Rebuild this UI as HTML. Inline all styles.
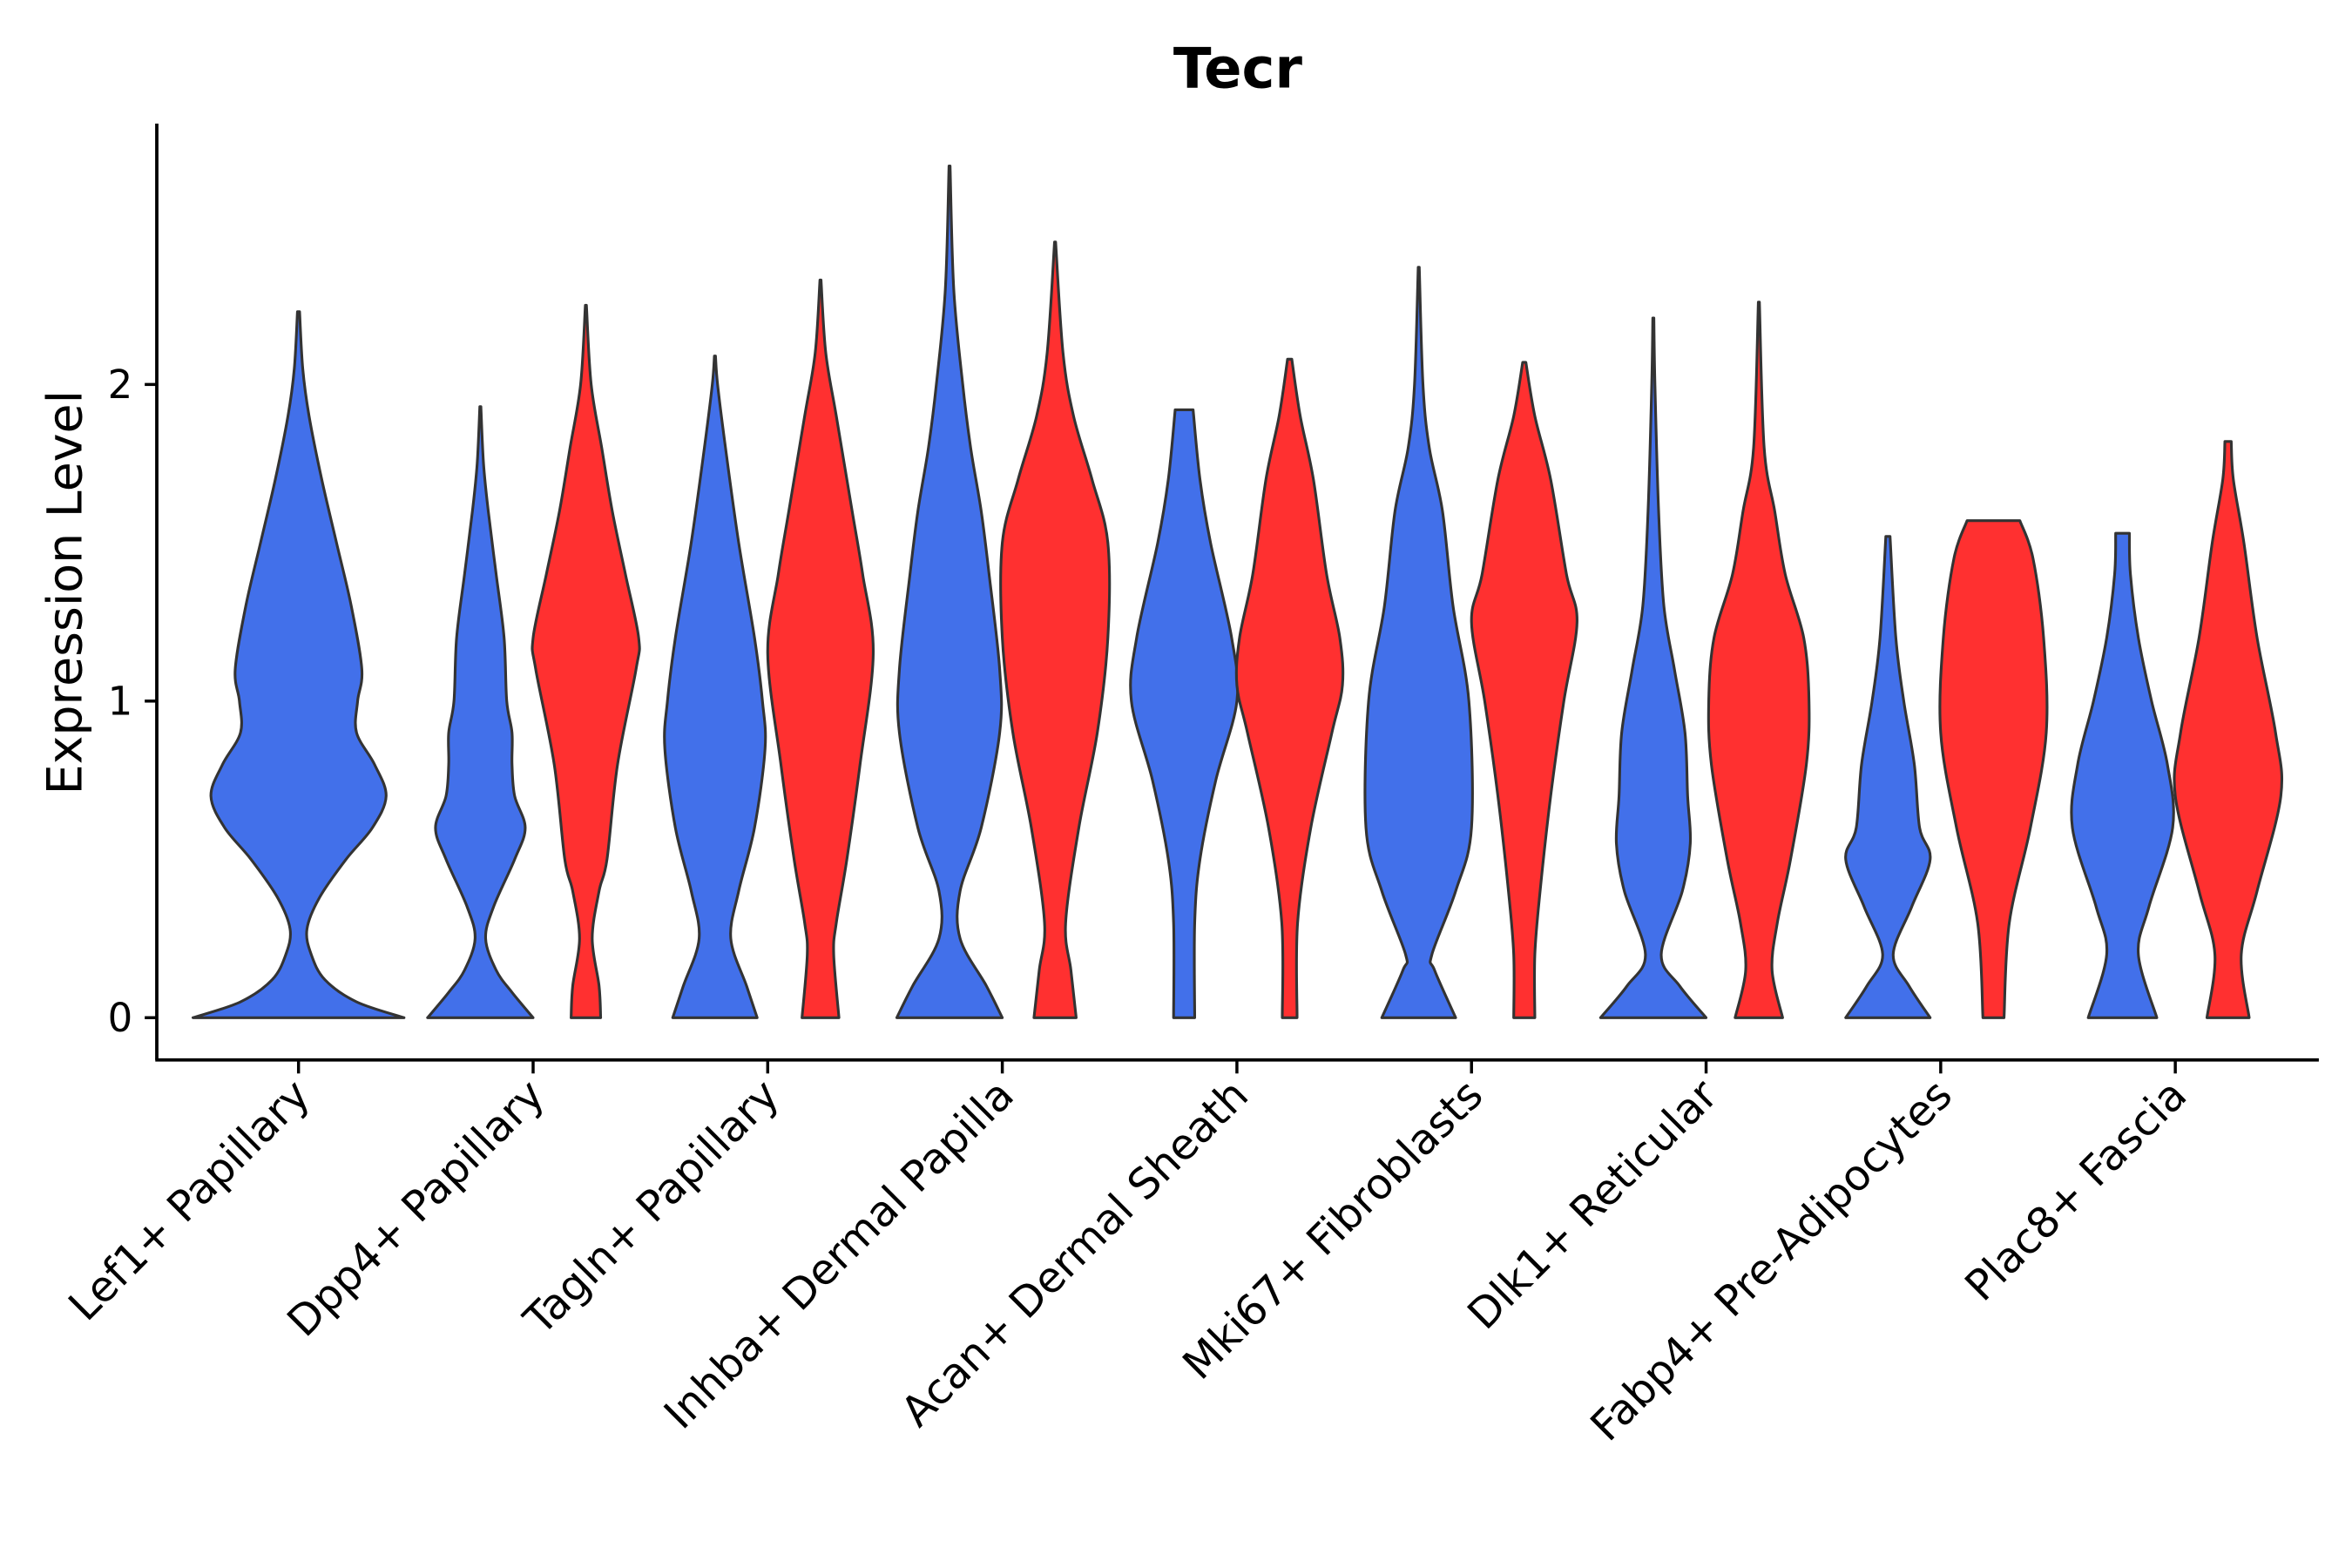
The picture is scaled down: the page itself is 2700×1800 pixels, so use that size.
<!DOCTYPE html>
<html><head><meta charset="utf-8"><style>
html,body{margin:0;padding:0;background:#fff;}
svg{display:block;font-family:"DejaVu Sans","Liberation Sans",sans-serif;}
</style></head><body>
<svg id="chart" width="2700" height="1800" viewBox="0 0 1560 1040" preserveAspectRatio="none" xmlns="http://www.w3.org/2000/svg">
<rect width="1560" height="1040" fill="#fff"/>
<text x="821" y="58" text-anchor="middle" font-size="37" font-weight="bold">Tecr</text>
<text transform="translate(54,393) rotate(-90)" text-anchor="middle" font-size="32">Expression Level</text>
<g id="violins"></g>
<g id="axes"></g>
</svg>
<script>
const categories = ["Lef1+ Papillary","Dpp4+ Papillary","Tagln+ Papillary","Inhba+ Dermal Papilla","Acan+ Dermal Sheath","Mki67+ Fibroblasts","Dlk1+ Reticular","Fabp4+ Pre-Adipocytes","Plac8+ Fascia"];
const yTicks = [0,1,2];
const violinCategory = [0,1,1,2,2,3,3,4,4,5,5,6,6,7,7,8,8];
const violinGroup    = [0,0,1,0,1,0,1,0,1,0,1,0,1,0,1,0,1];
const violinSplit    = [false,true,true,true,true,true,true,true,true,true,true,true,true,true,true,true,true];
const lef1Blue=[[0,1],[0.05,0.55],[0.12,0.25],[0.2,0.12],[0.28,0.08],[0.38,0.2],[0.5,0.45],[0.6,0.7],[0.7,0.83],[0.8,0.72],[0.9,0.55],[1.0,0.56],[1.1,0.6],[1.3,0.5],[1.5,0.36],[1.7,0.22],[1.9,0.1],[2.05,0.04],[2.23,0.01]];
const dpp4Blue=[[0,1],[0.08,0.6],[0.15,0.3],[0.25,0.1],[0.35,0.25],[0.5,0.65],[0.6,0.85],[0.7,0.65],[0.8,0.6],[0.9,0.6],[1.0,0.5],[1.2,0.45],[1.4,0.3],[1.6,0.15],[1.75,0.06],[1.93,0.01]];
const dpp4Red=[[0,0.28],[0.1,0.25],[0.25,0.12],[0.4,0.25],[0.5,0.4],[0.8,0.6],[1.1,0.95],[1.2,1.0],[1.4,0.75],[1.6,0.5],[1.8,0.3],[2.0,0.1],[2.25,0.01]];
const taglnBlue=[[0,0.8],[0.1,0.6],[0.25,0.3],[0.4,0.45],[0.6,0.75],[0.85,0.95],[1.0,0.9],[1.2,0.75],[1.5,0.45],[1.8,0.2],[2.0,0.05],[2.09,0.01]];
const taglnRed=[[0,0.35],[0.2,0.25],[0.3,0.3],[0.5,0.5],[0.8,0.75],[1.15,1.0],[1.4,0.8],[1.6,0.6],[1.9,0.3],[2.1,0.1],[2.33,0.01]];
const inhbaBlue=[[0,1],[0.1,0.7],[0.25,0.2],[0.4,0.2],[0.6,0.6],[0.9,0.95],[1.1,0.95],[1.4,0.75],[1.6,0.6],[1.8,0.4],[2.0,0.25],[2.3,0.08],[2.69,0.01]];
const inhbaRed=[[0,0.4],[0.15,0.3],[0.3,0.2],[0.6,0.45],[0.9,0.8],[1.2,1.0],[1.5,1.0],[1.7,0.7],[1.9,0.35],[2.1,0.15],[2.45,0.01]];
const acanBlue=[[0,0.2],[0.3,0.2],[0.5,0.3],[0.75,0.6],[1.0,1.0],[1.2,0.9],[1.5,0.5],[1.7,0.3],[1.92,0.17]];
const acanRed=[[0,0.14],[0.3,0.15],[0.6,0.4],[0.9,0.8],[1.05,1.0],[1.2,0.95],[1.4,0.7],[1.7,0.45],[1.9,0.2],[2.08,0.04]];
const mki67Blue=[[0,0.7],[0.15,0.3],[0.2,0.25],[0.4,0.7],[0.6,1.0],[1.0,0.95],[1.3,0.65],[1.6,0.45],[1.8,0.2],[2.0,0.08],[2.37,0.01]];
const mki67Red=[[0,0.2],[0.2,0.2],[0.4,0.3],[0.7,0.5],[1.0,0.75],[1.25,1.0],[1.4,0.8],[1.7,0.5],[1.9,0.2],[2.07,0.03]];
const dlk1Blue=[[0,1],[0.1,0.5],[0.2,0.15],[0.4,0.55],[0.55,0.7],[0.7,0.65],[0.9,0.6],[1.1,0.4],[1.3,0.2],[1.6,0.1],[2.0,0.03],[2.21,0.01]];
const dlk1Red=[[0,0.45],[0.15,0.25],[0.3,0.35],[0.5,0.6],[0.8,0.9],[1.0,0.95],[1.2,0.85],[1.4,0.5],[1.6,0.3],[1.8,0.1],[2.26,0.01]];
const fabp4Blue=[[0,0.8],[0.1,0.4],[0.2,0.1],[0.35,0.45],[0.5,0.8],[0.6,0.6],[0.8,0.5],[1.0,0.3],[1.2,0.15],[1.52,0.04]];
const fabp4Red=[[0,0.2],[0.3,0.3],[0.6,0.7],[0.9,1.0],[1.2,0.95],[1.45,0.75],[1.57,0.5]];
const plac8Blue=[[0,0.65],[0.2,0.3],[0.35,0.5],[0.6,0.95],[0.8,0.85],[1.0,0.55],[1.2,0.3],[1.4,0.15],[1.53,0.13]];
const plac8Red=[[0,0.4],[0.2,0.25],[0.4,0.55],[0.7,1.0],[0.9,0.9],[1.2,0.55],[1.5,0.3],[1.7,0.1],[1.82,0.06]];
const profiles=[lef1Blue,dpp4Blue,dpp4Red,taglnBlue,taglnRed,inhbaBlue,inhbaRed,acanBlue,acanRed,mki67Blue,mki67Red,dlk1Blue,dlk1Red,fabp4Blue,fabp4Red,plac8Blue,plac8Red];

const NS="http://www.w3.org/2000/svg";
const plot={left:104,right:1538,top:82,bottom:703};
function yScale(v){return 675-v*210;}
function xScale(i){return 198+i*155.6;}
const colors=["#4270EA","#FF3030"];
function mk(tag,attrs,parent){const e=document.createElementNS(NS,tag);for(const k in attrs)e.setAttribute(k,attrs[k]);parent.appendChild(e);return e;}
function smooth(pts){
  let d="M"+pts[0][0]+","+pts[0][1];
  for(let i=0;i<pts.length-1;i++){
    const p0=pts[i-1]||pts[i],p1=pts[i],p2=pts[i+1],p3=pts[i+2]||p2;
    const c1=[p1[0]+(p2[0]-p0[0])/6,p1[1]+(p2[1]-p0[1])/6];
    const c2=[p2[0]-(p3[0]-p1[0])/6,p2[1]-(p3[1]-p1[1])/6];
    d+=" C"+c1[0]+","+c1[1]+" "+c2[0]+","+c2[1]+" "+p2[0]+","+p2[1];
  }
  return d;
}
const vg=document.getElementById("violins");
profiles.forEach((prof,k)=>{
  const ci=violinCategory[k],g=violinGroup[k];
  const split=violinSplit[k];
  const cx=split?xScale(ci)+(g===0?-35:35):xScale(ci);
  const hw=split?35:70;
  const right=prof.map(p=>[cx+p[1]*hw,yScale(p[0])]);
  const left=prof.slice().reverse().map(p=>[cx-p[1]*hw,yScale(p[0])]);
  let d=smooth(right);
  d+=" L"+left[0][0]+","+left[0][1];
  d+=smooth(left).replace(/^M[^ ]+/,"");
  d+=" Z";
  const path=mk("path",{d:d,fill:colors[g],stroke:"#333","stroke-width":1.8,"stroke-linejoin":"round"},vg);
  
  
});
const ag=document.getElementById("axes");
const yl=mk("line",{x1:plot.left,x2:plot.left,y1:plot.top,y2:plot.bottom,stroke:"#000","stroke-width":2.2},ag);


const xl=mk("line",{x1:plot.left-1,x2:plot.right,y1:plot.bottom,y2:plot.bottom,stroke:"#000","stroke-width":2.2},ag);


yTicks.forEach(t=>{
  const y=yScale(t);
  const tk=mk("line",{x1:plot.left-8,x2:plot.left,y1:y,y2:y,stroke:"#000","stroke-width":2},ag);
  
  
  const tx=mk("text",{x:plot.left-16,y:y+9,"text-anchor":"end","font-size":26},ag);
  tx.textContent=t;
  
  
});
categories.forEach((c,i)=>{
  const x=xScale(i);
  const tk=mk("line",{x1:x,x2:x,y1:plot.bottom,y2:plot.bottom+9,stroke:"#000","stroke-width":2},ag);
  
  
  const tx=mk("text",{transform:"translate("+(x+9)+",728) rotate(-45)","text-anchor":"end","font-size":28},ag);
  tx.textContent=c;
  
  
});
</script>
</body></html>
